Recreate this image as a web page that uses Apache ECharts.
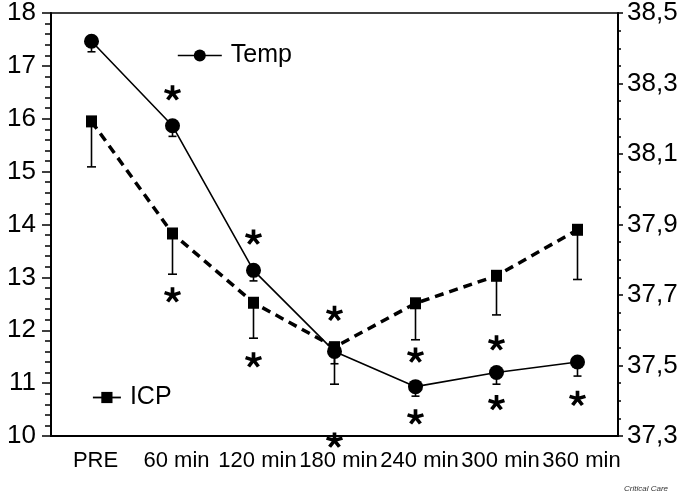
<!DOCTYPE html>
<html>
<head>
<meta charset="utf-8">
<script src="https://cdn.jsdelivr.net/npm/echarts@6/dist/echarts.min.js"></script>
<style>
html,body{margin:0;padding:0;background:#fff;}
#chart{width:685px;height:502px;}
</style>
</head>
<body>
<div id="chart"></div>
<script>
const categories = ['PRE', '60 min', '120 min', '180 min', '240 min', '300 min', '360 min'];
const tempMean = [38.42, 38.18, 37.77, 37.54, 37.44, 37.48, 37.51];
const tempSD = [0.03, 0.03, 0.03, 0.035, 0.027, 0.033, 0.04];
const icpMean = [15.95, 13.83, 12.52, 11.68, 12.51, 13.03, 13.90];
const icpSD = [0.86, 0.77, 0.67, 0.70, 0.69, 0.74, 0.94];
// significance asterisks: [category index, position on left axis]
const stars = [[1, 16.49], [1, 12.67], [2, 13.76], [2, 11.44], [3, 12.32], [3, 9.92],
               [4, 11.53], [4, 10.36], [5, 11.76], [5, 10.63], [6, 10.71]];
const leftTicks = {min: 10, max: 18, interval: 1};
const rightTicks = {min: 37.3, max: 38.5, interval: 0.2};

// five-armed bold asterisk built from rectangles
function armPath(deg, len, hw) {
  const a = deg * Math.PI / 180;
  const dx = Math.cos(a), dy = -Math.sin(a);
  const px = -dy * hw, py = dx * hw;
  const cx = 50, cy = 50, tx = cx + dx * len, ty = cy + dy * len;
  const f = v => v.toFixed(2);
  return 'M' + f(cx + px) + ',' + f(cy + py) + 'L' + f(tx + px) + ',' + f(ty + py) +
    'L' + f(tx - px) + ',' + f(ty - py) + 'L' + f(cx - px) + ',' + f(cy - py) + 'Z';
}
const starPath = 'path://' + [90, 18, 162, 234, 306].map(d => armPath(d, 50, 11)).join('');

function errData(mean, sd) { return mean.map((m, i) => [i, m, sd[i]]); }
function errRender(capHalf) {
  return function (params, api) {
    const top = api.coord([api.value(0), api.value(1)]);
    const bot = api.coord([api.value(0), api.value(1) - api.value(2)]);
    const st = {stroke: '#000', lineWidth: 1.6};
    return {type: 'group', children: [
      {type: 'line', shape: {x1: top[0], y1: top[1], x2: bot[0], y2: bot[1]}, style: st},
      {type: 'line', shape: {x1: bot[0] - capHalf, y1: bot[1], x2: bot[0] + capHalf, y2: bot[1]}, style: st}
    ]};
  };
}

const chart = echarts.init(document.getElementById('chart'), null, {renderer: 'canvas'});
const fontFam = '"Liberation Sans", Arial, sans-serif';
chart.setOption({
  animation: false,
  backgroundColor: '#fff',
  title: {text: 'Critical Care', right: 12, bottom: 4,
    textStyle: {fontSize: 8, fontStyle: 'italic', fontWeight: 'normal', color: '#333', fontFamily: fontFam}},
  grid: {left: 51, right: 67, top: 13, bottom: 66, show: true, borderColor: '#000', borderWidth: 1.5, backgroundColor: 'transparent'},
  legend: [
    {data: ['Temp'], left: 172, top: 38, itemWidth: 44, itemHeight: 15, itemGap: 10,
      textStyle: {fontSize: 25, color: '#000', fontFamily: fontFam, padding: [0, 0, 0, 4]},
      lineStyle: {type: 'solid', width: 1.6}},
    {data: ['ICP'], left: 87, top: 380, itemWidth: 28, itemHeight: 14, itemGap: 10,
      textStyle: {fontSize: 25, color: '#000', fontFamily: fontFam, padding: [0, 0, 0, 4]},
      lineStyle: {type: 'solid', width: 1.8}}
  ],
  xAxis: {
    type: 'category', data: categories, boundaryGap: true,
    axisLine: {lineStyle: {color: '#000', width: 2}},
    axisTick: {length: 8, lineStyle: {color: '#000', width: 1.5}},
    axisLabel: {fontSize: 22, color: '#000', fontFamily: fontFam, margin: 14, interval: 0, padding: [0, 0, 0, 8]},
    splitLine: {show: false}
  },
  yAxis: [
    {type: 'value', position: 'left', min: leftTicks.min, max: leftTicks.max, interval: leftTicks.interval,
      axisLine: {show: true, lineStyle: {color: '#000', width: 2}},
      axisTick: {show: true, length: 9, lineStyle: {color: '#000', width: 1.5}},
      minorTick: {show: true, splitNumber: 5, length: 6, lineStyle: {color: '#000', width: 1.5}},
      axisLabel: {fontSize: 26, color: '#000', fontFamily: fontFam, margin: 15, padding: [10, 0, 0, 0]},
      splitLine: {show: false}},
    {type: 'value', position: 'right', min: rightTicks.min, max: rightTicks.max, interval: rightTicks.interval,
      axisLine: {show: true, lineStyle: {color: '#000', width: 2}},
      axisTick: {show: true, length: 5, lineStyle: {color: '#000', width: 1.5}},
      minorTick: {show: true, splitNumber: 4, length: 3, lineStyle: {color: '#000', width: 1.5}},
      axisLabel: {fontSize: 26, color: '#000', fontFamily: fontFam, margin: 9, padding: [10, 0, 0, 0],
        formatter: v => v.toFixed(1).replace('.', ',')},
      splitLine: {show: false}}
  ],
  series: [
    {type: 'custom', name: 'tempErr', yAxisIndex: 1, data: errData(tempMean, tempSD),
      encode: {x: 0, y: 1}, renderItem: errRender(4), z: 2, silent: true},
    {type: 'custom', name: 'icpErr', yAxisIndex: 0, data: errData(icpMean, icpSD),
      encode: {x: 0, y: 1}, renderItem: errRender(4.5), z: 2, silent: true},
    {type: 'line', name: 'Temp', yAxisIndex: 1, data: tempMean, symbol: 'circle', symbolSize: 15,
      lineStyle: {color: '#000', width: 1.6}, itemStyle: {color: '#000'}, z: 4},
    {type: 'line', name: 'ICP', yAxisIndex: 0, data: icpMean, symbol: 'rect', symbolSize: [11, 12],
      lineStyle: {color: '#000', width: 3.5, type: [9, 6]}, itemStyle: {color: '#000'}, z: 3},
    {type: 'scatter', name: 'stars', yAxisIndex: 0, data: stars, symbol: starPath, symbolSize: [17, 16],
      symbolKeepAspect: true, clip: false, itemStyle: {color: '#000', opacity: 1}, z: 5, silent: true}
  ]
});
</script>
</body>
</html>
